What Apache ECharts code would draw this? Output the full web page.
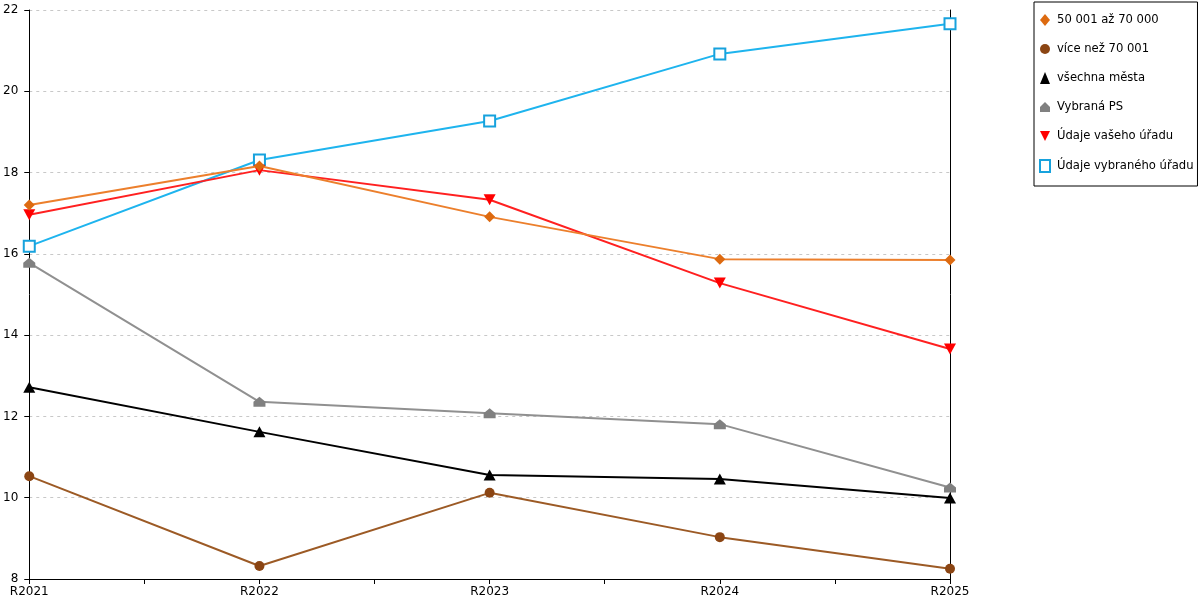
<!DOCTYPE html>
<html>
<head>
<meta charset="utf-8">
<script src="https://cdn.jsdelivr.net/npm/echarts@6/dist/echarts.min.js"></script>
<style>
    html, body {margin: 0; padding: 0; background: #fff;}
    #chart {width: 1200px; height: 600px;}
</style>
</head>
<body>
<div id="chart"></div>
<script>
'use strict';

const years = ['R2021', 'R2022', 'R2023', 'R2024', 'R2025'];
const yTicks = [8, 10, 12, 14, 16, 18, 20, 22];

const names = [
    '50 001 až 70 000',
    'více než 70 001',
    'všechna města',
    'Vybraná PS',
    'Údaje vašeho úřadu',
    'Údaje vybraného úřadu'
];

const vals5070 = [17.20, 18.16, 16.91, 15.87, 15.85];
const valsOver70 = [10.53, 8.32, 10.12, 9.03, 8.25];
const valsAll = [12.72, 11.62, 10.56, 10.46, 9.99];
const valsPS = [15.78, 12.36, 12.08, 11.81, 10.25];
const valsYours = [16.96, 18.06, 17.33, 15.28, 13.66];
const valsSelected = [16.19, 18.31, 19.27, 20.92, 21.66];

const house = 'path://M5,0 L10,5 L10,10 L0,10 L0,5 Z';
const triDown = 'path://M0,0 L10,0 L5,10 Z';

const styles = [
    {line: '#ec7f2c', mark: '#dd6a10', symbol: 'diamond', size: 11, data: vals5070},
    {line: '#9c5a25', mark: '#8b4513', symbol: 'circle', size: 10, data: valsOver70},
    {line: '#000000', mark: '#000000', symbol: 'triangle', size: [12, 11], data: valsAll},
    {line: '#909090', mark: '#808080', symbol: house, size: [12, 10], data: valsPS},
    {line: '#ff2020', mark: '#ff0000', symbol: triDown, size: [12, 11], data: valsYours},
    {line: '#1eb4ee', mark: '#17a2dd', symbol: 'emptyRect', size: 11, data: valsSelected}
];

const series = styles.map(function (s, i) {
    return {
        name: names[i],
        type: 'line',
        data: s.data.map(function (v, k) { return [k, v]; }),
        symbol: s.symbol,
        symbolSize: s.size,
        showAllSymbol: true,
        lineStyle: {color: s.line, width: 2},
        itemStyle: {color: s.mark, borderColor: s.mark, borderWidth: s.symbol === 'emptyRect' ? 1.5 : 0},
        emphasis: {disabled: true},
        animation: false,
        z: 10 - i
    };
});

const chart = echarts.init(document.getElementById('chart'));
chart.setOption({
    animation: false,
    textStyle: {fontFamily: 'DejaVu Sans'},
    grid: {left: 28, right: 250, top: 10, bottom: 21, containLabel: false},
    legend: {
        orient: 'vertical',
        left: 1034,
        top: 2,
        padding: [12, 4, 13, 5],
        borderColor: '#000',
        borderWidth: 1,
        itemWidth: 10,
        itemHeight: 12,
        itemGap: 17,
        textStyle: {fontSize: 11.6, color: '#000', fontFamily: 'DejaVu Sans', padding: [0, 0, 0, 2]},
        data: names.map(function (n, i) {
            return {name: n, icon: styles[i].symbol};
        })
    },
    xAxis: {
        type: 'value',
        min: 0,
        max: years.length - 1,
        interval: 0.5,
        axisLine: {lineStyle: {color: '#000', width: 1}},
        axisTick: {show: true, length: 5, lineStyle: {color: '#000'}},
        axisLabel: {
            color: '#000', fontSize: 12, margin: 7,
            formatter: function (v) { return Number.isInteger(v) ? years[v] : ''; }
        },
        splitLine: {show: false}
    },
    yAxis: [{
        type: 'value',
        min: yTicks[0],
        max: yTicks[yTicks.length - 1],
        interval: 2,
        axisLine: {show: true, lineStyle: {color: '#000', width: 1}},
        axisTick: {show: true, length: 5, lineStyle: {color: '#000'}},
        axisLabel: {color: '#000', fontSize: 12, margin: 11},
        splitLine: {show: true, lineStyle: {color: '#c8c8c8', type: [3, 4], width: 1}}
    }, {
        type: 'value',
        position: 'right',
        min: yTicks[0],
        max: yTicks[yTicks.length - 1],
        interval: 2,
        axisLine: {show: true, lineStyle: {color: '#000', width: 1}},
        axisTick: {show: false},
        axisLabel: {show: false},
        splitLine: {show: false}
    }],
    series: series
});
</script>
</body>
</html>
